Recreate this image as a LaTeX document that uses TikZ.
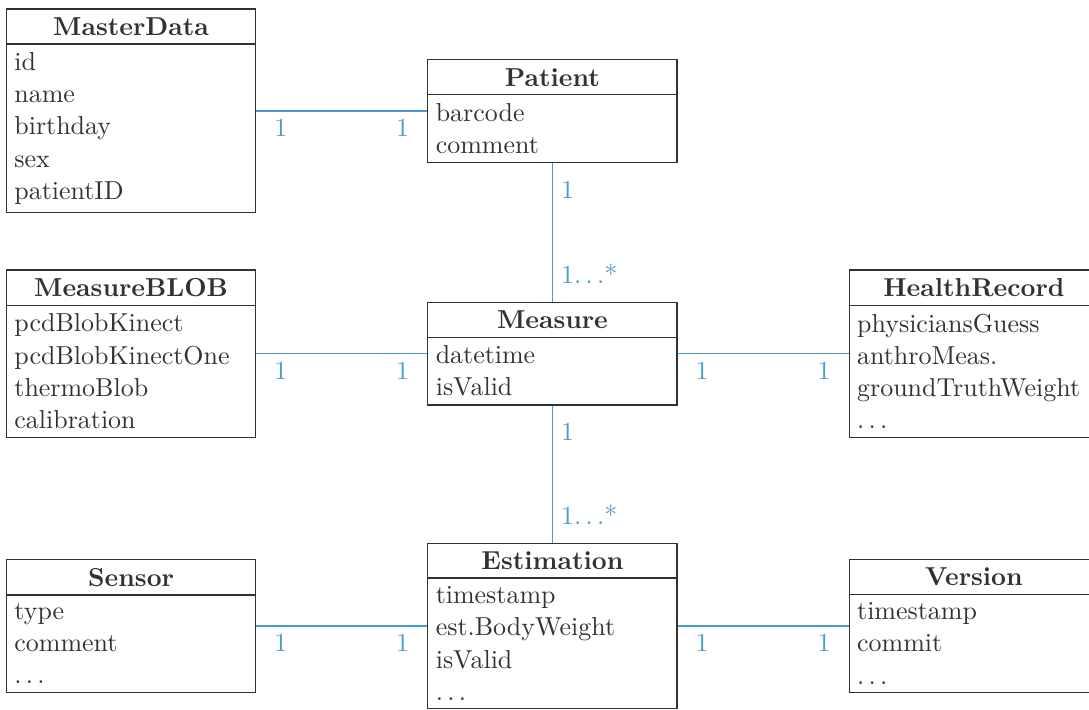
\documentclass[tikz,border=0pt]{standalone}
\usetikzlibrary{positioning,shapes.multipart}

\definecolor{linkblue}{RGB}{75,155,205}
\definecolor{boxgray}{RGB}{50,50,50}

\begin{document}
\begin{tikzpicture}
        \tikzstyle{every node}=[font=\fontsize{10.95}{13.6}\selectfont, text=boxgray]
        \tikzstyle{entity}=[draw=boxgray, line width=0.5pt, rectangle split, rectangle split parts=2, rectangle split part align={center,left}, align=left, minimum width=105.1pt]
        \tikzstyle{link}=[draw=linkblue, line width=0.6pt]
        \tikzstyle{mult}=[text=linkblue]

        \useasboundingbox (-233.1pt,-150pt) rectangle (226.4pt,149.2pt);

        % measure
        \node[entity] (measure) at (0,0) {\textbf{Measure} \nodepart{two} datetime\\ isValid};

        % patient
        \node[entity, above=58.6pt of measure] (patient) {\textbf{Patient} \nodepart{two} barcode\\ comment};
        \draw[link] (patient) -- node[mult, at start, anchor=north west, yshift=-4pt] {1} node[mult, at end, anchor=south west, yshift=4pt] {1$\ldots$*} (measure);

        % master data
        \node[entity, left=72.2pt of patient] (masterdata) {\textbf{MasterData} \nodepart{two} id\\ name\\ birthday\\ sex\\ patientID};
        \draw[link] (masterdata) -- node[mult, at start, anchor=north west, xshift=4pt] {1} node[mult, at end, anchor=north east, xshift=-4pt] {1} (patient);

        % measure blob
        \node[entity, left=72.2pt of measure] (measureblob) {\textbf{MeasureBLOB} \nodepart{two} pcdBlobKinect\\ pcdBlobKinectOne\\ thermoBlob\\ calibration};
        \draw[link] (measureblob) -- node[mult, at start, anchor=north west, xshift=4pt] {1} node[mult, at end, anchor=north east, xshift=-4pt] {1} (measure);

        % health record
        \node[entity, right=72.2pt of measure] (healthrecord) {\textbf{HealthRecord} \nodepart{two} physiciansGuess\\ anthroMeas.\\ groundTruthWeight\\ $\ldots$};
        \draw[link] (measure) -- node[mult, at start, anchor=north west, xshift=4pt] {1} node[mult, at end, anchor=north east, xshift=-4pt] {1} (healthrecord);

        % estimation
        \node[entity, below=57.8pt of measure] (estimation) {\textbf{Estimation} \nodepart{two} timestamp\\ est.BodyWeight\\ isValid\\ $\ldots$};
        \draw[link] (measure) -- node[mult, at start, anchor=north west, yshift=-4pt] {1} node[mult, at end, anchor=south west, yshift=4pt] {1$\ldots$*} (estimation);

        % sensor
        \node[entity, left=72.2pt of estimation] (sensor) {\textbf{Sensor} \nodepart{two} type\\ comment\\ $\ldots$};
        \draw[link] (sensor) -- node[mult, at start, anchor=north west, xshift=4pt] {1} node[mult, at end, anchor=north east, xshift=-4pt] {1} (estimation);

        % version
        \node[entity, right=72.2pt of estimation] (version) {\textbf{Version} \nodepart{two} timestamp\\ commit\\ $\ldots$};
        \draw[link] (estimation) -- node[mult, at start, anchor=north west, xshift=4pt] {1} node[mult, at end, anchor=north east, xshift=-4pt] {1} (version);

    \end{tikzpicture}
\end{document}
